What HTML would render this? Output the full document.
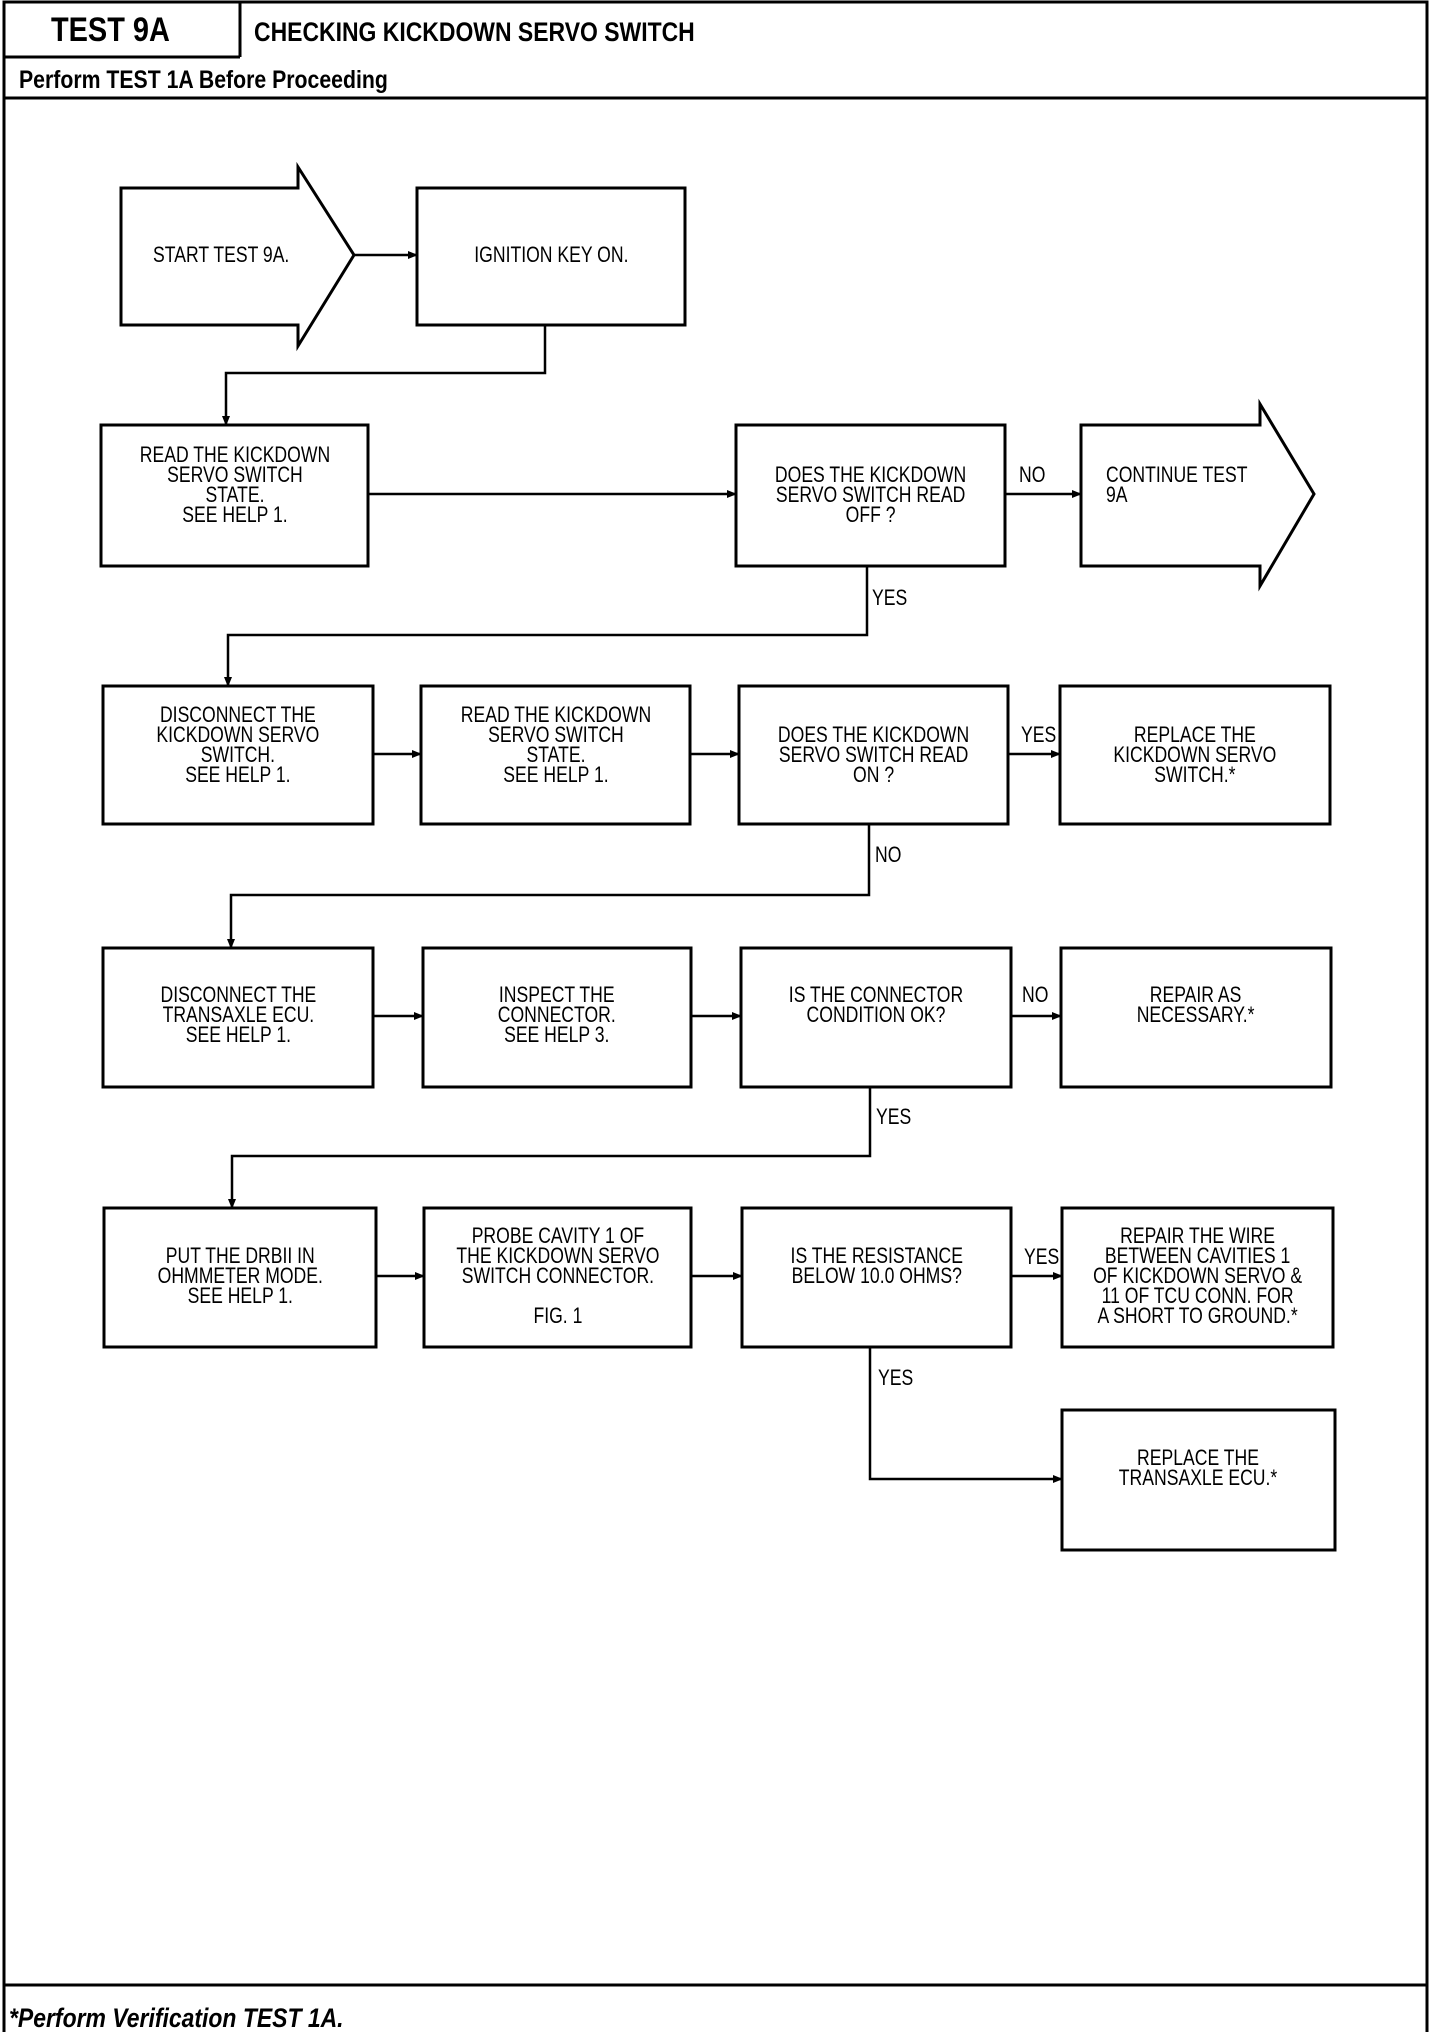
<!DOCTYPE html>
<html><head><meta charset="utf-8">
<style>
html,body{margin:0;padding:0;background:#fff;}
#pg{position:relative;width:1440px;height:2032px;overflow:hidden;background:#fff;font-family:"Liberation Sans",sans-serif;color:#000;}
svg{position:absolute;left:0;top:0;}
.t{position:absolute;text-align:center;font-size:22px;line-height:20px;white-space:pre;}
.t>div{display:inline-block;transform:scaleX(0.8);}
.l{position:absolute;font-size:22px;line-height:20px;white-space:pre;transform:scaleX(0.8);transform-origin:left center;}
.h{position:absolute;font-weight:bold;white-space:nowrap;}
</style></head><body><div id="pg">
<svg width="1440" height="2032" viewBox="0 0 1440 2032">
<defs><marker id="a" markerWidth="10" markerHeight="8" refX="9" refY="4" orient="auto" markerUnits="userSpaceOnUse"><path d="M0,0 L10,4 L0,8 z" fill="#000"/></marker></defs>
<g fill="none" stroke="#000" stroke-width="3">
<!-- frame -->
<polyline points="4,2032 4,2 1427,2 1427,2032"/>
<line x1="4" y1="57" x2="240" y2="57"/>
<line x1="240" y1="2" x2="240" y2="57"/>
<line x1="4" y1="98" x2="1427" y2="98"/>
<line x1="4" y1="1985" x2="1427" y2="1985"/>
<!-- row1 -->
<polygon points="121,188 298,188 298,167 354,255 298,346 298,325 121,325"/>
<rect x="417" y="188" width="268" height="137"/>
<rect x="101" y="425" width="267" height="141"/>
<rect x="736" y="425" width="269" height="141"/>
<polygon points="1081,425 1260,425 1260,404 1314,494 1260,586 1260,566 1081,566"/>
<!-- row2 -->
<rect x="103" y="686" width="270" height="138"/>
<rect x="421" y="686" width="269" height="138"/>
<rect x="739" y="686" width="269" height="138"/>
<rect x="1060" y="686" width="270" height="138"/>
<!-- row3 -->
<rect x="103" y="948" width="270" height="139"/>
<rect x="423" y="948" width="268" height="139"/>
<rect x="741" y="948" width="270" height="139"/>
<rect x="1061" y="948" width="270" height="139"/>
<!-- row4 -->
<rect x="104" y="1208" width="272" height="139"/>
<rect x="424" y="1208" width="267" height="139"/>
<rect x="742" y="1208" width="269" height="139"/>
<rect x="1062" y="1208" width="271" height="139"/>
<rect x="1062" y="1410" width="273" height="140"/>
</g>
<g fill="none" stroke="#000" stroke-width="2.5" marker-end="url(#a)">
<line x1="354" y1="255" x2="417" y2="255"/>
<polyline points="545,325 545,373 226,373 226,425"/>
<line x1="368" y1="494" x2="736" y2="494"/>
<line x1="1005" y1="494" x2="1081" y2="494"/>
<polyline points="867,566 867,635 228,635 228,686"/>
<line x1="373" y1="754" x2="421" y2="754"/>
<line x1="690" y1="754" x2="739" y2="754"/>
<line x1="1008" y1="754" x2="1060" y2="754"/>
<polyline points="869,824 869,895 231,895 231,948"/>
<line x1="373" y1="1016" x2="423" y2="1016"/>
<line x1="691" y1="1016" x2="741" y2="1016"/>
<line x1="1011" y1="1016" x2="1061" y2="1016"/>
<polyline points="870,1087 870,1156 232,1156 232,1208"/>
<line x1="376" y1="1276" x2="424" y2="1276"/>
<line x1="691" y1="1276" x2="742" y2="1276"/>
<line x1="1011" y1="1276" x2="1062" y2="1276"/>
<polyline points="870,1347 870,1479 1062,1479"/>
</g>
</svg>

<div class="h" style="left:51px;top:11px;font-size:34px;transform:scaleX(0.85);transform-origin:left;">TEST 9A</div>
<div class="h" style="left:254px;top:17px;font-size:27px;transform:scaleX(0.85);transform-origin:left;">CHECKING KICKDOWN SERVO SWITCH</div>
<div class="h" style="left:19px;top:66px;font-size:25px;transform:scaleX(0.85);transform-origin:left;">Perform TEST 1A Before Proceeding</div>
<div class="h" style="left:9px;top:2003px;font-size:27px;font-style:italic;transform:scaleX(0.85);transform-origin:left;">*Perform Verification TEST 1A.</div>

<div class="t" style="left:121px;width:200px;top:245px;"><div>START TEST 9A.</div></div>
<div class="t" style="left:417px;width:268px;top:245px;"><div>IGNITION KEY ON.</div></div>
<div class="t" style="left:101px;width:267px;top:445px;"><div>READ THE KICKDOWN
SERVO SWITCH
STATE.
SEE HELP 1.</div></div>
<div class="t" style="left:736px;width:269px;top:465px;"><div>DOES THE KICKDOWN
SERVO SWITCH READ
OFF ?</div></div>
<div class="l" style="left:1106px;top:465px;">CONTINUE TEST
9A</div>
<div class="l" style="left:1019px;top:465px;">NO</div>
<div class="l" style="left:872px;top:588px;">YES</div>

<div class="t" style="left:103px;width:270px;top:705px;"><div>DISCONNECT THE
KICKDOWN SERVO
SWITCH.
SEE HELP 1.</div></div>
<div class="t" style="left:421px;width:269px;top:705px;"><div>READ THE KICKDOWN
SERVO SWITCH
STATE.
SEE HELP 1.</div></div>
<div class="t" style="left:739px;width:269px;top:725px;"><div>DOES THE KICKDOWN
SERVO SWITCH READ
ON ?</div></div>
<div class="t" style="left:1060px;width:270px;top:725px;"><div>REPLACE THE
KICKDOWN SERVO
SWITCH.*</div></div>
<div class="l" style="left:1021px;top:725px;">YES</div>
<div class="l" style="left:875px;top:845px;">NO</div>

<div class="t" style="left:103px;width:270px;top:985px;"><div>DISCONNECT THE
TRANSAXLE ECU.
SEE HELP 1.</div></div>
<div class="t" style="left:423px;width:268px;top:985px;"><div>INSPECT THE
CONNECTOR.
SEE HELP 3.</div></div>
<div class="t" style="left:741px;width:270px;top:985px;"><div>IS THE CONNECTOR
CONDITION OK?</div></div>
<div class="t" style="left:1061px;width:270px;top:985px;"><div>REPAIR AS
NECESSARY.*</div></div>
<div class="l" style="left:1022px;top:985px;">NO</div>
<div class="l" style="left:876px;top:1107px;">YES</div>

<div class="t" style="left:104px;width:272px;top:1246px;"><div>PUT THE DRBII IN
OHMMETER MODE.
SEE HELP 1.</div></div>
<div class="t" style="left:424px;width:267px;top:1226px;"><div>PROBE CAVITY 1 OF
THE KICKDOWN SERVO
SWITCH CONNECTOR.

FIG. 1</div></div>
<div class="t" style="left:742px;width:269px;top:1246px;"><div>IS THE RESISTANCE
BELOW 10.0 OHMS?</div></div>
<div class="t" style="left:1062px;width:271px;top:1226px;"><div>REPAIR THE WIRE
BETWEEN CAVITIES 1
OF KICKDOWN SERVO &amp;
11 OF TCU CONN. FOR
A SHORT TO GROUND.*</div></div>
<div class="l" style="left:1024px;top:1247px;">YES</div>
<div class="l" style="left:878px;top:1368px;">YES</div>
<div class="t" style="left:1062px;width:273px;top:1448px;"><div>REPLACE THE
TRANSAXLE ECU.*</div></div>
</div></body></html>
